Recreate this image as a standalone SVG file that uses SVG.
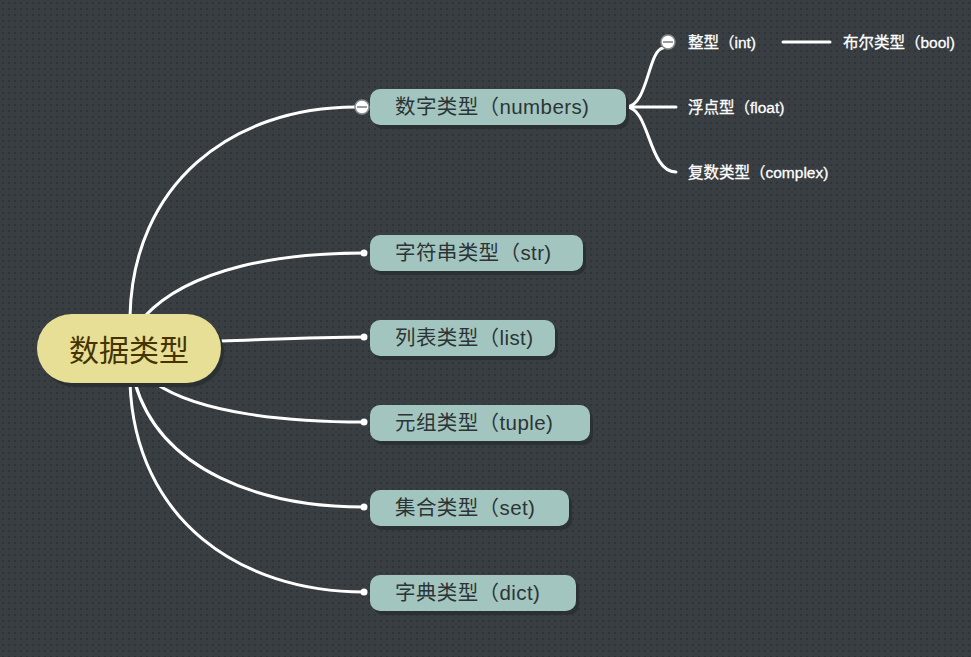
<svg xmlns="http://www.w3.org/2000/svg" width="971" height="657" viewBox="0 0 971 657">
  <defs>
    <pattern id="dots" width="6" height="6" patternUnits="userSpaceOnUse">
      <rect width="6" height="6" fill="#383e42"/>
      <rect x="2" y="2" width="2" height="2" fill="#2f3438"/>
    </pattern>
    <style>
      .link { fill: none; stroke: #ffffff; stroke-width: 3; stroke-linecap: round; }
      .dot { fill: #ffffff; }
      .fold { fill: #ffffff; stroke: #8a8e90; stroke-width: 1.5; }
      .fold-bar { stroke: #7a7e80; stroke-width: 1.5; }
      .shadow { fill: #2b3033; }
      .topic { fill: #a3c5bf; }
      .topic-text { font-family: "Liberation Sans", "Noto Sans CJK SC", sans-serif; font-size: 20.5px; letter-spacing: 0.4px; fill: #2d3436; }
      .sub-text { font-family: "Liberation Sans", "Noto Sans CJK SC", sans-serif; font-size: 15.5px; fill: #ffffff; stroke: #ffffff; stroke-width: 0.3; }
    </style>
  </defs>

  <rect width="971" height="657" fill="url(#dots)"/>

  <!-- connectors -->
  <g id="connectors">
    <path class="link" d="M130,316 C133,185 230,107 356,107"/>
    <path class="link" d="M145,316 C190,268 280,253 364,253"/>
    <path class="link" d="M221,341 C280,339 320,337 364,337"/>
    <path class="link" d="M155,383 C200,414 290,422 364,422"/>
    <path class="link" d="M135,383 C160,470 260,507 364,507"/>
    <path class="link" d="M130,383 C135,520 240,592 364,592"/>
    <path class="link" d="M626,107 C648,107 648,50 663,48"/>
    <path class="link" d="M626,107 L676,107"/>
    <path class="link" d="M626,107 C650,107 648,172 676,172"/>
    <path class="link" d="M783,42 L830,42"/>
    <circle class="dot" cx="364" cy="253" r="3.5"/>
    <circle class="dot" cx="364" cy="337" r="3.5"/>
    <circle class="dot" cx="364" cy="422" r="3.5"/>
    <circle class="dot" cx="364" cy="507" r="3.5"/>
    <circle class="dot" cx="364" cy="592" r="3.5"/>
  </g>

  <!-- root -->
  <g id="root">
    <rect class="shadow" x="40" y="318" width="184" height="69" rx="34.5"/>
    <rect x="37" y="314" width="184" height="69" rx="34.5" fill="#e8df96"/>
    <text x="129" y="361" text-anchor="middle" font-family="Liberation Sans, Noto Sans CJK SC, sans-serif" font-size="30" fill="#453400">数据类型</text>
  </g>

  <g id="numbers">
    <rect class="shadow" x="373" y="93" width="256" height="36" rx="10"/>
    <rect class="topic" x="370" y="89" width="256" height="36" rx="10"/>
    <text class="topic-text" x="395" y="114">数字类型（numbers)</text>
    <circle class="fold" cx="362" cy="107" r="7"/>
    <line class="fold-bar" x1="357" y1="107" x2="367" y2="107"/>
  </g>

  <g id="str">
    <rect class="shadow" x="373" y="239" width="213" height="36" rx="10"/>
    <rect class="topic" x="370" y="235" width="213" height="36" rx="10"/>
    <text class="topic-text" x="395" y="260">字符串类型（str)</text>
  </g>

  <g id="list">
    <rect class="shadow" x="373" y="324" width="185" height="36" rx="10"/>
    <rect class="topic" x="370" y="320" width="185" height="36" rx="10"/>
    <text class="topic-text" x="395" y="345">列表类型（list)</text>
  </g>

  <g id="tuple">
    <rect class="shadow" x="373" y="409" width="220" height="36" rx="10"/>
    <rect class="topic" x="370" y="405" width="220" height="36" rx="10"/>
    <text class="topic-text" x="395" y="430">元组类型（tuple)</text>
  </g>

  <g id="set">
    <rect class="shadow" x="373" y="494" width="199" height="36" rx="10"/>
    <rect class="topic" x="370" y="490" width="199" height="36" rx="10"/>
    <text class="topic-text" x="395" y="515">集合类型（set)</text>
  </g>

  <g id="dict">
    <rect class="shadow" x="373" y="579" width="206" height="36" rx="10"/>
    <rect class="topic" x="370" y="575" width="206" height="36" rx="10"/>
    <text class="topic-text" x="395" y="600">字典类型（dict)</text>
  </g>

  <g id="int">
    <circle class="fold" cx="668" cy="42" r="7"/>
    <line class="fold-bar" x1="663" y1="42" x2="673" y2="42"/>
    <text class="sub-text" x="688" y="48">整型（int)</text>
  </g>

  <g id="bool">
    <text class="sub-text" x="843" y="48">布尔类型（bool)</text>
  </g>

  <g id="float">
    <text class="sub-text" x="688" y="113">浮点型（float)</text>
  </g>

  <g id="complex">
    <text class="sub-text" x="688" y="178">复数类型（complex)</text>
  </g>
</svg>
